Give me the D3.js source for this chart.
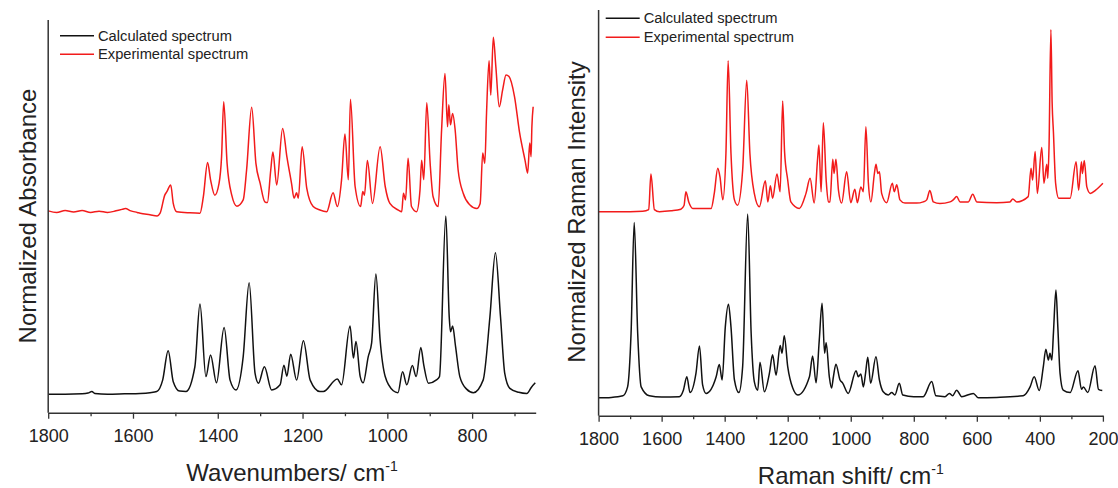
<!DOCTYPE html>
<html>
<head>
<meta charset="utf-8">
<script src="https://cdn.jsdelivr.net/npm/d3@7"></script>
<style>
  body { margin: 0; background: #fff; }
  svg text { font-family: "Liberation Sans", Arial, sans-serif; fill: #222; }
</style>
</head>
<body>
<div id="chart"></div>
<script>
// spectra: [wavenumber, normalized intensity]
let irExperimental = [
  [1800, 51.4], [1780, 51.0], [1760, 51.5], [1740, 51.1], [1720, 51.5], [1700, 51.0], [1680, 51.3],
  [1660, 51.0], [1640, 51.4], [1625, 51.8], [1618, 52.0], [1605, 51.4], [1590, 51.0], [1583, 50.8],
  [1560, 50.4], [1543, 50.1], [1536, 50.8], [1525, 55.4], [1520, 56.3], [1511, 58.0], [1505, 53.3],
  [1497, 51.2], [1466, 50.9], [1442, 50.8], [1434, 55.0], [1424, 63.7], [1417, 59.3], [1407, 55.4],
  [1397, 58.4], [1391, 65.2], [1386, 79.2], [1378, 63.5], [1367, 55.4], [1355, 52.6], [1340, 54.2],
  [1332, 61.8], [1320, 77.8], [1310, 63.5], [1300, 58.4], [1289, 53.7], [1283, 53.5], [1275, 61.8],
  [1270, 66.4], [1261, 58.0], [1247, 72.4], [1237, 65.2], [1226, 58.4], [1220, 54.6], [1214, 56.0],
  [1210, 54.6], [1201, 67.7], [1190, 57.1], [1175, 52.5], [1159, 51.6], [1143, 51.2], [1128, 56.0],
  [1118, 52.5], [1108, 59.3], [1100, 71.0], [1092, 59.3], [1087, 79.8], [1076, 57.6], [1063, 52.5],
  [1058, 56.3], [1054, 55.4], [1047, 64.2], [1035, 53.3], [1017, 67.7], [1005, 57.6], [994, 53.3],
  [974, 51.6], [966, 51.2], [962, 55.9], [957, 54.2], [951, 64.8], [943, 52.5], [931, 51.2],
  [923, 56.6], [919, 64.3], [914, 59.3], [907, 78.9], [899, 63.5], [892, 55.0], [880, 52.5],
  [872, 72.0], [864, 86.4], [858, 72.8], [855, 78.4], [851, 73.3], [846, 76.2], [840, 72.0],
  [833, 61.8], [821, 55.9], [805, 52.9], [789, 52.0], [781, 53.3], [775, 66.1], [770, 63.5],
  [766, 76.2], [760, 89.6], [756, 80.9], [750, 95.6], [744, 88.1], [736, 77.9], [728, 82.2],
  [720, 86.0], [713, 85.6], [700, 80.5], [688, 71.3], [675, 64.2], [669, 61.0], [664, 68.7],
  [661, 65.2], [659, 72.8], [656, 77.9]
];

let irCalculated = [
  [1800, 4.7], [1760, 4.7], [1720, 4.8], [1706, 5.0], [1697, 5.4], [1690, 4.9], [1660, 4.7],
  [1620, 4.8], [1583, 4.9], [1560, 5.1], [1544, 5.4], [1530, 8.3], [1517, 15.8], [1505, 7.9],
  [1490, 5.5], [1475, 5.4], [1454, 11.7], [1442, 27.7], [1428, 9.2], [1417, 14.7], [1403, 7.6],
  [1385, 21.7], [1371, 8.3], [1357, 5.8], [1340, 14.3], [1326, 33.1], [1312, 10.0], [1304, 7.5],
  [1290, 11.7], [1273, 5.8], [1253, 7.1], [1244, 12.1], [1237, 9.3], [1228, 14.9], [1214, 8.3],
  [1198, 18.3], [1182, 8.3], [1159, 5.4], [1151, 5.4], [1118, 8.6], [1108, 7.1], [1088, 22.1],
  [1080, 13.9], [1074, 18.1], [1064, 9.2], [1057, 7.6], [1045, 14.3], [1037, 17.8], [1027, 35.3],
  [1017, 18.5], [1005, 9.2], [986, 5.6], [975, 5.1], [964, 10.4], [954, 7.1], [941, 12.0],
  [932, 9.2], [921, 16.6], [914, 12.1], [903, 7.5], [885, 8.3], [877, 9.2], [862, 50.1],
  [854, 24.4], [851, 20.6], [846, 22.1], [839, 16.8], [829, 9.2], [813, 6.0], [797, 5.1],
  [774, 8.3], [758, 24.4], [745, 40.7], [733, 24.4], [723, 10.0], [711, 6.2], [690, 5.2],
  [671, 4.9], [660, 6.5], [651, 7.6]
];

let ramanExperimental = [
  [1800, 50.3], [1700, 50.3], [1660, 50.4], [1641, 50.8], [1634, 59.6], [1623, 50.8], [1607, 50.3],
  [1570, 50.5], [1539, 50.9], [1529, 51.8], [1523, 55.2], [1514, 52.7], [1501, 51.1], [1443, 51.1],
  [1433, 54.8], [1422, 61.0], [1415, 58.9], [1406, 53.2], [1396, 64.7], [1389, 87.5], [1380, 64.7],
  [1369, 53.2], [1359, 51.9], [1343, 60.5], [1330, 82.7], [1320, 64.7], [1306, 54.8], [1290, 51.5],
  [1271, 57.9], [1263, 52.7], [1255, 56.7], [1248, 53.6], [1234, 59.6], [1224, 55.2], [1216, 77.6],
  [1210, 65.1], [1200, 58.1], [1190, 52.7], [1163, 51.1], [1142, 54.8], [1129, 58.5], [1116, 52.4],
  [1105, 63.5], [1101, 66.7], [1094, 55.2], [1087, 72.2], [1078, 58.1], [1071, 52.7], [1066, 52.7],
  [1057, 63.2], [1053, 59.7], [1047, 63.2], [1039, 55.6], [1029, 52.4], [1013, 60.1], [1000, 52.5],
  [987, 55.8], [979, 52.5], [968, 56.4], [960, 55.2], [952, 71.2], [944, 57.3], [936, 52.7],
  [925, 59.7], [920, 62.0], [914, 59.7], [909, 60.1], [902, 54.8], [886, 52.5], [868, 57.3],
  [862, 55.2], [854, 56.9], [844, 53.2], [828, 52.4], [791, 52.4], [770, 52.7], [759, 53.2],
  [749, 55.5], [738, 52.7], [717, 52.3], [685, 52.7], [675, 53.2], [664, 54.0], [653, 52.7],
  [627, 52.7], [613, 54.6], [600, 52.7], [537, 52.5], [495, 52.7], [486, 53.4], [473, 52.7],
  [437, 54.0], [428, 61.0], [423, 58.1], [415, 65.1], [408, 54.8], [394, 66.1], [387, 57.3],
  [378, 62.0], [375, 58.5], [371, 66.0], [365, 95.2], [361, 77.0], [357, 70.0], [350, 57.3],
  [340, 53.6], [304, 53.6], [285, 62.6], [277, 55.6], [268, 62.6], [265, 59.7], [259, 62.9],
  [251, 56.4], [240, 54.8], [223, 55.6], [200, 57.3]
];

let ramanCalculated = [
  [1800, 4.4], [1760, 4.5], [1723, 4.9], [1708, 7.1], [1697, 20.3], [1687, 47.6], [1676, 20.3],
  [1665, 7.1], [1639, 4.9], [1600, 4.6], [1544, 4.7], [1531, 6.3], [1520, 9.6], [1510, 5.7],
  [1491, 10.5], [1480, 17.2], [1470, 7.6], [1459, 5.5], [1427, 9.6], [1417, 12.6], [1408, 8.8],
  [1398, 21.9], [1388, 27.5], [1380, 21.9], [1369, 8.8], [1355, 5.7], [1343, 12.1], [1327, 49.7],
  [1316, 20.3], [1306, 8.4], [1295, 6.3], [1288, 13.2], [1274, 5.9], [1258, 10.5], [1248, 15.0],
  [1237, 10.0], [1224, 17.3], [1218, 15.4], [1211, 19.7], [1200, 12.1], [1184, 6.8], [1168, 5.1],
  [1131, 9.6], [1121, 14.7], [1110, 8.1], [1100, 18.5], [1091, 27.7], [1083, 15.4], [1078, 18.0],
  [1068, 9.6], [1061, 6.8], [1055, 9.6], [1047, 12.7], [1034, 8.8], [1026, 8.1], [1008, 5.5],
  [983, 11.1], [976, 9.6], [968, 10.3], [960, 7.1], [953, 10.5], [946, 14.4], [937, 8.0],
  [920, 14.5], [909, 8.8], [897, 5.9], [881, 5.1], [870, 5.7], [860, 5.1], [846, 8.0],
  [835, 5.1], [800, 4.7], [770, 4.7], [743, 8.4], [730, 4.9], [701, 4.7], [687, 5.5],
  [677, 4.9], [664, 6.3], [648, 4.7], [611, 5.5], [595, 4.4], [537, 4.5], [453, 4.9],
  [431, 7.1], [418, 9.6], [402, 6.2], [389, 12.1], [381, 16.4], [373, 13.7], [368, 15.4],
  [362, 13.7], [357, 20.3], [349, 31.0], [343, 21.9], [336, 10.5], [326, 6.3], [304, 5.7],
  [279, 11.1], [268, 6.5], [262, 7.1], [248, 5.7], [225, 12.3], [214, 6.5], [202, 6.2]
];

let irMajorTicks = [1800, 1600, 1400, 1200, 1000, 800];
let irMinorTicks = [1700, 1500, 1300, 1100, 900, 700];
let ramanMajorTicks = [1800, 1600, 1400, 1200, 1000, 800, 600, 400, 200];
let ramanMinorTicks = [1700, 1500, 1300, 1100, 900, 700, 500, 300];
let legendLabels = ['Calculated spectrum', 'Experimental spectrum'];
let seriesColors = ['#111', '#f21b1b'];

let svgWidth = 1118;
let svgHeight = 488;

let svg = d3.select('#chart')
    .append('svg')
    .attr('width', svgWidth)
    .attr('height', svgHeight);

function drawPanel(p) {
    let x = d3.scaleLinear().domain(p.xDomain).range([p.left, p.right]);
    let y = d3.scaleLinear().domain([0, 100]).range([p.bottom, p.top]);

    let g = svg.append('g');

    let line = d3.line()
      .x(d => x(d[0]))
      .y(d => y(d[1]))
      .curve(d3.curveMonotoneX);

    g.append('path')
      .datum(p.exp)
      .attr('fill', 'none')
      .attr('stroke', seriesColors[1])
      .attr('stroke-width', 1.5)
      .attr('stroke-linejoin', 'round')
      .attr('d', line);

    g.append('path')
      .datum(p.calc)
      .attr('fill', 'none')
      .attr('stroke', seriesColors[0])
      .attr('stroke-width', 1.5)
      .attr('stroke-linejoin', 'round')
      .attr('d', line);

    // axes
    let minorAxis = g.append('g')
      .attr('transform', `translate(0, ${p.bottom})`)
      .call(d3.axisBottom(x).tickValues(p.minor).tickSize(3.5).tickFormat(''));
    minorAxis.select('.domain').remove();

    let bottomAxis = g.append('g')
      .attr('transform', `translate(0, ${p.bottom})`)
      .call(d3.axisBottom(x).tickValues(p.major).tickSize(6).tickPadding(11)
        .tickSizeOuter(0).tickFormat(d3.format('d')));
    bottomAxis.selectAll('text')
      .attr('font-size', '18px')
      .style('font-family', '"Liberation Sans", Arial, sans-serif')
      .attr('fill', '#222');

    g.selectAll('.tick line').attr('stroke', '#333').attr('stroke-width', 1.3);
    bottomAxis.select('.domain').attr('stroke', '#333').attr('stroke-width', 1.5);

    g.append('line')
      .attr('x1', p.left).attr('x2', p.left)
      .attr('y1', p.top).attr('y2', p.bottom)
      .attr('stroke', '#333')
      .attr('stroke-width', 1.5);

    // axis titles
    let xTitle = g.append('text')
      .attr('x', (p.left + p.right) / 2)
      .attr('y', p.xTitleY)
      .attr('text-anchor', 'middle')
      .attr('font-size', '24px');
    xTitle.append('tspan').text(p.xTitle);
    xTitle.append('tspan').attr('font-size', '14px').attr('dy', '-10').text('-1');

    g.append('text')
      .attr('transform', `translate(${p.yTitleX}, ${p.yTitleY}) rotate(-90)`)
      .attr('text-anchor', 'middle')
      .attr('font-size', '24px')
      .text(p.yTitle);

    // legend
    legendLabels.forEach(function(label, i) {
        let ly = p.legendY + i * p.legendStep;
        g.append('line')
          .attr('x1', p.legendX).attr('x2', p.legendX + 34)
          .attr('y1', ly).attr('y2', ly)
          .attr('stroke', seriesColors[i])
          .attr('stroke-width', 1.5);
        g.append('text')
          .attr('x', p.legendX + 38)
          .attr('y', ly + 5)
          .attr('font-size', '14.7px')
          .text(label);
    });
}

drawPanel({
    xDomain: [1800, 650], left: 48.2, right: 535.7, top: 20, bottom: 412.7,
    exp: irExperimental, calc: irCalculated,
    major: irMajorTicks, minor: irMinorTicks,
    xTitle: 'Wavenumbers/ cm', xTitleY: 481,
    yTitle: 'Normalized Absorbance', yTitleX: 36, yTitleY: 216,
    legendX: 60, legendY: 35.7, legendStep: 18.6
});

drawPanel({
    xDomain: [1800, 200], left: 598.6, right: 1102.9, top: 10, bottom: 415.7,
    exp: ramanExperimental, calc: ramanCalculated,
    major: ramanMajorTicks, minor: ramanMinorTicks,
    xTitle: 'Raman shift/ cm', xTitleY: 484,
    yTitle: 'Normalized Raman Intensity', yTitleX: 585, yTitleY: 212,
    legendX: 605.7, legendY: 18.3, legendStep: 19
});
</script>
</body>
</html>
